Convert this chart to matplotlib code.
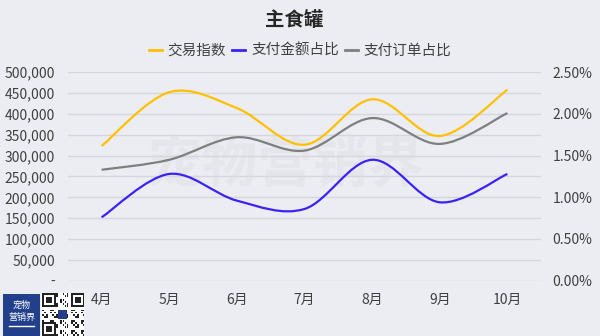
import numpy as np
import matplotlib
matplotlib.use("Agg")
import matplotlib.pyplot as plt
from matplotlib.path import Path
from matplotlib.patches import PathPatch, Rectangle
from matplotlib.lines import Line2D
from matplotlib.ticker import FuncFormatter, MultipleLocator

plt.rcParams['font.family'] = ['Noto Sans CJK SC', 'DejaVu Sans']

months = ['4月', '5月', '6月', '7月', '8月', '9月', '10月']
trade_index = [323000, 452000, 414000, 326000, 435000, 347000, 458000]
pay_amount_share = [0.76, 1.28, 0.96, 0.86, 1.45, 0.94, 1.28]   # %
pay_order_share = [1.33, 1.45, 1.72, 1.56, 1.95, 1.64, 2.01]    # %

series_names = ['交易指数', '支付金额占比', '支付订单占比']
colors = ['#FFC000', '#3A22F8', '#7F7F7F']

BG = '#ECEDF2'
TEXT = '#404040'


def smooth_path(xs, ys):
    """Catmull-Rom style cubic bezier through the points (like a smoothed line)."""
    pts = np.column_stack([xs, ys]).astype(float)
    n = len(pts)
    verts = [pts[0]]
    codes = [Path.MOVETO]
    for i in range(n - 1):
        p0 = pts[i - 1] if i > 0 else pts[i]
        p1 = pts[i]
        p2 = pts[i + 1]
        p3 = pts[i + 2] if i + 2 < n else pts[i + 1]
        c1 = p1 + (p2 - p0) / 6.0
        c2 = p2 - (p3 - p1) / 6.0
        verts += [c1, c2, p2]
        codes += [Path.CURVE4] * 3
    return Path(verts, codes)


fig = plt.figure(figsize=(6, 3.36), dpi=100, facecolor=BG)
ax = fig.add_axes([0.113, 0.1646, 0.789, 0.6205], facecolor=BG)
ax2 = ax.twinx()

x = np.arange(len(months))
ax.set_xlim(-0.5, len(months) - 0.5)
ax.set_ylim(0, 500000)
ax2.set_ylim(0, 2.5)

ax.yaxis.set_major_locator(MultipleLocator(50000))
ax2.yaxis.set_major_locator(MultipleLocator(0.5))
ax.yaxis.set_major_formatter(FuncFormatter(lambda v, p: '-' if v == 0 else f'{int(v):,}'))
ax2.yaxis.set_major_formatter(FuncFormatter(lambda v, p: f'{v:.2f}%'))
ax.set_xticks(x)
ax.set_xticklabels(months)

ax.grid(axis='y', color='#D6D7DB', linewidth=1)
ax.set_axisbelow(True)
for a in (ax, ax2):
    for s in a.spines.values():
        s.set_visible(False)
    a.tick_params(length=0, labelsize=10, colors=TEXT)
ax.tick_params(axis='y', pad=9)
ax2.tick_params(axis='y', pad=8)
ax.tick_params(axis='x', pad=9)

# watermark
ax.text(0.46, 0.55, '宠物营销界', transform=ax.transAxes, fontsize=40,
        fontweight='bold', color='#E5E6EB', ha='center', va='center', zorder=0)

ax.add_patch(PathPatch(smooth_path(x, trade_index), fill=False,
                       edgecolor=colors[0], linewidth=1.6, zorder=3))
ax2.add_patch(PathPatch(smooth_path(x, pay_amount_share), fill=False,
                        edgecolor=colors[1], linewidth=1.6, zorder=3))
ax2.add_patch(PathPatch(smooth_path(x, pay_order_share), fill=False,
                        edgecolor=colors[2], linewidth=1.6, zorder=3))

fig.text(0.49, 0.94, '主食罐', fontsize=14, fontweight='bold', color='#262626',
         ha='center', va='center')
handles = [Line2D([], [], color=c, linewidth=2) for c in colors]
fig.legend(handles, series_names, loc='center', bbox_to_anchor=(0.5, 0.848),
           ncol=3, frameon=False, fontsize=10.5, labelcolor=TEXT,
           handlelength=0.9, handletextpad=0.4, columnspacing=0.4)

# logo block and QR badge at the bottom-left
logo = fig.add_axes([3 / 600, 0, 37 / 600, 42 / 336])
logo.set_axis_off()
logo.add_patch(Rectangle((0, 0), 1, 1, color='#223F8C', transform=logo.transAxes))
logo.text(0.5, 0.72, '宠物', color='white', fontsize=6.5, ha='center', va='center',
          transform=logo.transAxes)
logo.text(0.5, 0.45, '营销界', color='white', fontsize=6.5, ha='center', va='center',
          transform=logo.transAxes)
logo.plot([0.15, 0.85], [0.25, 0.25], color='white', linewidth=1, transform=logo.transAxes)

qr = fig.add_axes([41 / 600, 0, 43 / 600, 43 / 336])
qr.set_axis_off()
qr.set_xlim(0, 21)
qr.set_ylim(0, 21)
qr.add_patch(Rectangle((0, 0), 21, 21, color='white'))
grid = np.zeros((21, 21), dtype=bool)
for i in range(21):
    for j in range(21):
        grid[i, j] = ((i * 7 + j * 3 + i * j) % 5) < 2
for (ci, cj) in [(0, 0), (0, 14), (14, 0)]:
    grid[ci:ci + 7, cj:cj + 7] = False
    grid[ci, cj:cj + 7] = True
    grid[ci + 6, cj:cj + 7] = True
    grid[ci:ci + 7, cj] = True
    grid[ci:ci + 7, cj + 6] = True
    grid[ci + 2:ci + 5, cj + 2:cj + 5] = True
for i in range(21):
    for j in range(21):
        if grid[i, j]:
            qr.add_patch(Rectangle((j + 0.5, 20 - i), 0.9, 0.9, color='#222222', lw=0))
qr.add_patch(Rectangle((8.5, 8.5), 4, 4, color='#223F8C', lw=0))

fig.savefig('out.png', dpi=100, facecolor=BG)
